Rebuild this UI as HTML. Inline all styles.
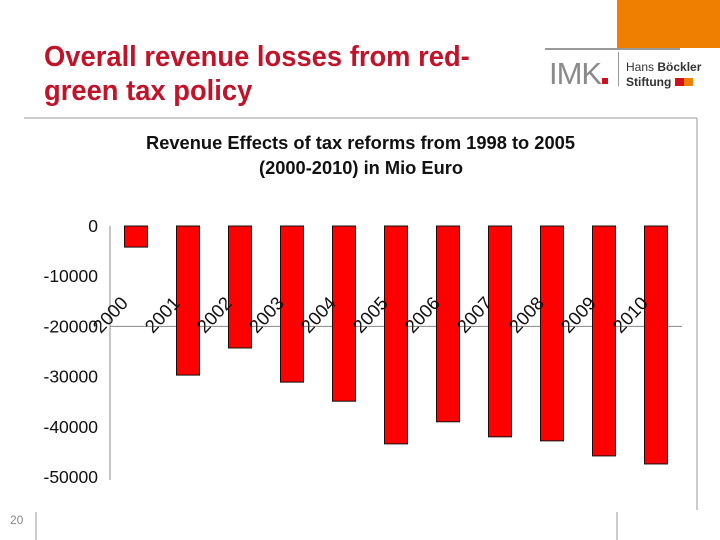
<!DOCTYPE html>
<html><head><meta charset="utf-8"><style>
body{margin:0;width:720px;height:540px;overflow:hidden;background:#fff;font-family:"Liberation Sans",sans-serif;position:relative}
</style></head><body>
<div style="position:absolute;left:44px;top:40px;color:#c0142a;font-weight:bold;font-size:28.5px;line-height:34px;transform:scaleX(0.96);transform-origin:left top;white-space:nowrap">Overall revenue losses from red-<br>green tax policy</div>
<div style="position:absolute;left:617px;top:0;width:103px;height:48px;background:#ee7f00"></div>
<div style="position:absolute;left:545px;top:48px;width:135px;height:2px;background:#999"></div>
<div style="position:absolute;left:549px;top:56px;font-size:31px;color:#8a8a8a;letter-spacing:-1px;font-family:'Liberation Sans Narrow','Liberation Sans',sans-serif">IMK<span style="display:inline-block;width:6px;height:6px;background:#d0101f;margin-left:1px"></span></div>
<div style="position:absolute;left:618px;top:52px;width:1px;height:34px;background:#999"></div>
<div style="position:absolute;left:626px;top:60px;font-size:12px;line-height:15px;color:#333">Hans <b>Böckler</b><br><b>Stiftung</b> <span style="display:inline-block;width:9px;height:8px;background:#d0101f"></span><span style="display:inline-block;width:9px;height:8px;background:#ee7f00"></span></div>
<svg width="720" height="540" style="position:absolute;left:0;top:0">
<line x1="24" y1="118" x2="697" y2="118" stroke="#999"/>
<line x1="697" y1="118" x2="697" y2="510" stroke="#999"/>
<line x1="36" y1="512" x2="36" y2="540" stroke="#999"/>
<line x1="617" y1="512" x2="617" y2="540" stroke="#999"/>
<text x="10" y="524" font-size="12" fill="#888">20</text>
<text x="146" y="149" textLength="429" lengthAdjust="spacingAndGlyphs" font-size="18" font-weight="bold" fill="#111">Revenue Effects of tax reforms from 1998 to 2005</text>
<text x="259" y="174" textLength="204" lengthAdjust="spacingAndGlyphs" font-size="18" font-weight="bold" fill="#111">(2000-2010) in Mio Euro</text>
<g id="plot"></g>
</svg>
<script>
const categories=["2000","2001","2002","2003","2004","2005","2006","2007","2008","2009","2010"];
const values=[-4200,-29700,-24300,-31100,-34900,-43400,-39000,-42000,-42800,-45800,-47400];
const yTicks=[0,-10000,-20000,-30000,-40000,-50000];
const NS="http://www.w3.org/2000/svg";
const g=document.getElementById('plot');
const x0=110,x1=682,y0=226,y1=477,yMin=-50000,yMax=0;
const y=v=>y0+(yMax-v)/(yMax-yMin)*(y1-y0);
const band=(x1-x0)/categories.length;
const xc=i=>x0+band*(i+0.5);
function mk(t,a){const e=document.createElementNS(NS,t);for(const k in a)e.setAttribute(k,a[k]);g.appendChild(e);return e;}
const ax=mk('line',{x1:x0,y1:y(0),x2:x0,y2:y(-50000)+3,stroke:'#888'});


const hx=mk('line',{x1:x0,y1:y(-20000),x2:x1,y2:y(-20000),stroke:'#888'});


yTicks.forEach(v=>{const t=mk('text',{x:98,y:y(v)+6,'text-anchor':'end','font-size':'17.5',fill:'#111'});t.textContent=v;

});
values.forEach((v,i)=>{const w=23,cx=xc(i);
const b=mk('rect',{x:cx-w/2,y:y(0),width:w,height:y(v)-y(0),fill:'#ff0000',stroke:'#111','stroke-width':1});

});
categories.forEach((c,i)=>{const ex=xc(i)-7,ey=304;
const t=mk('text',{x:ex,y:ey,'text-anchor':'end','font-size':'18.5',fill:'#111',transform:`rotate(-47 ${ex} ${ey})`});t.textContent=c;

});
</script>
</body></html>
